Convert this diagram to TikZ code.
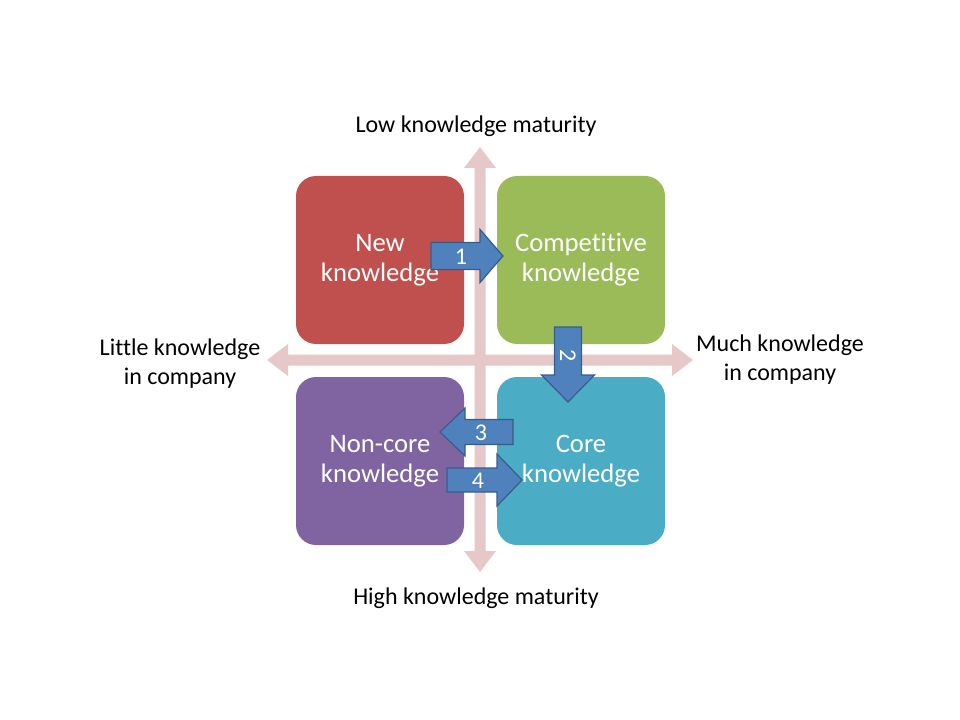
\documentclass[tikz,border=0pt]{standalone}
\usepackage{fontspec}
\setmainfont{Carlito}[Ligatures={NoCommon}]
\definecolor{cRed}{RGB}{192,80,77}
\definecolor{cGreen}{RGB}{155,187,89}
\definecolor{cPurple}{RGB}{128,100,162}
\definecolor{cTeal}{RGB}{75,172,198}
\definecolor{cBlue}{RGB}{79,129,189}
\definecolor{cBlueEdge}{RGB}{56,93,138}
\definecolor{cAxis}{RGB}{230,200,201}
\begin{document}
\begin{tikzpicture}[x=0.75pt,y=-0.75pt,
  quad/.style={rounded corners=15pt,minimum width=126pt,minimum height=126pt,inner sep=0pt,
    text=white,align=center,font=\fontsize{20pt}{22.5pt}\selectfont},
  axislabel/.style={align=center,font=\fontsize{18pt}{21.75pt}\selectfont,text=black,inner sep=0pt},
  axisarrow/.style={fill=cAxis,draw=none},
  blockarrow/.style={fill=cBlue,draw=cBlueEdge,line width=0.9pt,line join=miter},
  numlabel/.style={text=white,font=\fontsize{18pt}{20pt}\selectfont,inner sep=0pt}]
\useasboundingbox (0,0) rectangle (960,720);
% axes
\path[axisarrow] (480,147) -- (496,168) -- (485.5,168) -- (485.5,551) -- (496,551) -- (480,572)
  -- (464,551) -- (474.5,551) -- (474.5,168) -- (464,168) -- cycle;
\path[axisarrow] (267,360) -- (288,344) -- (288,354.5) -- (672,354.5) -- (672,344) -- (693,360)
  -- (672,376) -- (672,365.5) -- (288,365.5) -- (288,376) -- cycle;
% quadrants
\node[quad,fill=cRed] (new) at (380,260) {New\\knowledge};
\node[quad,fill=cGreen] (comp) at (581,260) {Competitive\\knowledge};
\node[quad,fill=cPurple] (noncore) at (380,461) {Non-core\\knowledge};
\node[quad,fill=cTeal] (core) at (581,461) {Core\\knowledge};
% axis labels
\node[axislabel] (low) at (476,126) {Low knowledge maturity};
\node[axislabel] (high) at (476,598) {High knowledge maturity};
\node[axislabel] (little) at (180,364) {Little knowledge\\in company};
\node[axislabel] (much) at (780,360) {Much knowledge\\in company};
% block arrows
\draw[blockarrow] (431,242.5) -- (480,242.5) -- (480,229.5) -- (503,256) -- (480,282.5) -- (480,269.5) -- (431,269.5) -- cycle;
\node[numlabel] (n1) at (461,257) {1};
\draw[blockarrow] (554.5,327) -- (581.5,327) -- (581.5,375) -- (594.5,375) -- (568,402) -- (541.5,375) -- (554.5,375) -- cycle;
\node[numlabel,rotate=-90] (n2) at (568,356) {2};
\draw[blockarrow] (513,419.5) -- (465,419.5) -- (465,408) -- (440,432) -- (465,456) -- (465,444.5) -- (513,444.5) -- cycle;
\node[numlabel] (n3) at (481,433) {3};
\draw[blockarrow] (447,468) -- (497,468) -- (497,454) -- (522,480) -- (497,506) -- (497,492) -- (447,492) -- cycle;
\node[numlabel] (n4) at (478,481) {4};
\end{tikzpicture}
\end{document}
